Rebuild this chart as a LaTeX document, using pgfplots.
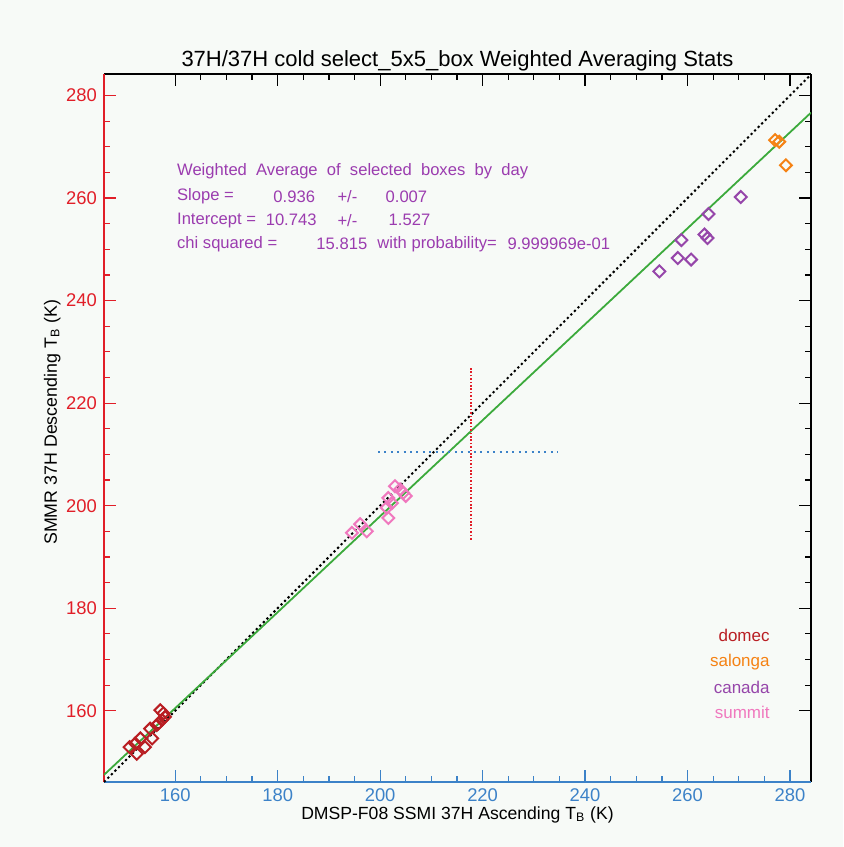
\documentclass[border=0pt]{standalone}
\usepackage{pgfplots}
\pgfplotsset{compat=1.18}
\usepackage{fontspec}
\setmainfont{Liberation Sans}
\definecolor{bg}{RGB}{247,250,247}
\definecolor{xblue}{RGB}{60,130,200}
\definecolor{yred}{RGB}{225,30,40}
\definecolor{cdomec}{RGB}{185,30,35}
\definecolor{csalonga}{RGB}{245,130,20}
\definecolor{ccanada}{RGB}{150,70,170}
\definecolor{csummit}{RGB}{240,120,190}
\definecolor{tpurple}{RGB}{155,60,175}
\definecolor{fitgreen}{RGB}{60,170,60}
\pgfplotsset{
  dmark/.style={only marks, mark=square, mark size=2.1pt, mark options={rotate=45, line width=1pt, #1}, color=#1},
}
\begin{document}
\begin{tikzpicture}
\path[use as bounding box, fill=bg] (-52pt,-32.5pt) rectangle (369.5pt,391pt);
\begin{axis}[at={(0,0)}, anchor=south west, scale only axis,
  width=353.5pt, height=354pt,
  xmin=146.1, xmax=284.1, ymin=146.1, ymax=284.2,
  axis x line*=top, axis y line*=right,
  axis line style={black, line width=0.7pt},
  xtick={160,180,...,280}, ytick={160,180,...,280}, minor tick num=3,
  tick align=inside, tick style={black, line width=0.6pt},
  major tick length=6pt, minor tick length=3pt,
  xticklabels={}, yticklabels={},
]
\addplot[draw=none] coordinates {(150,150)};
\end{axis}
\begin{axis}[at={(0,0)}, anchor=south west, scale only axis,
  width=353.5pt, height=354pt,
  xmin=146.1, xmax=284.1, ymin=146.1, ymax=284.2,
  axis x line*=bottom, axis y line*=left,
  x axis line style={xblue, line width=0.7pt},
  y axis line style={yred, line width=0.7pt},
  xtick={160,180,...,280}, ytick={160,180,...,280}, minor tick num=3,
  tick align=inside,
  xtick style={xblue, line width=0.6pt},
  ytick style={yred, line width=0.6pt},
  major tick length=6pt, minor tick length=3pt,
  /pgf/number format/assume math mode=true,
  xticklabel style={text=xblue, font=\fontsize{9.2}{10}\selectfont},
  yticklabel style={text=yred, font=\fontsize{9.2}{10}\selectfont},
  every axis title shift=0pt,
  title={37H/37H cold select\_5x5\_box Weighted Averaging Stats},
  title style={at={(axis description cs:0.5,1.0099)}, anchor=base, font=\fontsize{11}{12}\selectfont},
  xlabel={DMSP-F08 SSMI 37H Ascending T\textsubscript{B} (K)},
  xlabel style={at={(axis description cs:0.5,-0.053)}, anchor=base, font=\fontsize{8.8}{10}\selectfont},
  ylabel={SMMR 37H Descending T\textsubscript{B} (K)},
  ylabel style={at={(axis description cs:-0.0665,0.508)}, anchor=base, font=\fontsize{8.9}{10}\selectfont},
]
% 1:1 line
\addplot[black, line width=1pt, dash pattern=on 1.1pt off 1.4pt] coordinates {(146.1,146.1) (284.1,284.1)};
% weighted fit y = 0.936x + 10.743
\addplot[fitgreen, line width=0.9pt] coordinates {(146.1,147.49) (284.1,276.66)};
% mean with spread
\addplot[yred, line width=0.8pt, dash pattern=on 0.8pt off 0.9pt] coordinates {(217.7,193.4) (217.7,227.1)};
\addplot[xblue, line width=0.8pt, dash pattern=on 1pt off 2.2pt] coordinates {(199.6,210.5) (234.7,210.5)};
% domec
\addplot[dmark=cdomec] coordinates {
(151.1,152.9) (152.2,153.6) (153.2,154.6) (152.5,151.6) (154.1,152.9)
(155.1,156.5) (155.5,154.6) (157.1,160.1) (156.4,157.2) (157.4,158.2)
(158.0,158.8) (157.7,159.5) (156.7,157.5)};
% summit
\addplot[dmark=csummit] coordinates {
(194.5,194.7) (196.1,196.4) (197.4,195.0) (201.3,199.6) (201.6,197.6)
(201.6,201.5) (202.3,200.5) (202.9,203.8) (203.9,203.2) (204.5,202.5) (205.0,201.9)};
% canada
\addplot[dmark=ccanada] coordinates {
(254.5,245.7) (258.1,248.3) (260.7,248.0) (258.8,251.8) (263.3,252.9)
(263.9,252.2) (264.1,256.9) (270.4,260.2)};
% salonga
\addplot[dmark=csalonga] coordinates {
(277.1,271.3) (277.9,271.0) (279.2,266.4)};
% stats text
\begin{scope}[every node/.style={anchor=west, text=tpurple, font=\fontsize{8.3}{9}\selectfont, inner sep=0pt}]
\node at (axis cs:160.3,265.3) {Weighted\ \ Average\ \ of\ \ selected\ \ boxes\ \ by\ \ day};
\node at (axis cs:160.3,260.3) {Slope =};
\node at (axis cs:179.1,260.3) {0.936};
\node at (axis cs:191.6,260.3) {+/-};
\node at (axis cs:201.0,260.3) {0.007};
\node at (axis cs:160.3,255.7) {Intercept =};
\node at (axis cs:177.6,255.7) {10.743};
\node at (axis cs:191.6,255.7) {+/-};
\node at (axis cs:201.6,255.7) {1.527};
\node at (axis cs:160.3,251.0) {chi squared =};
\node at (axis cs:187.5,251.0) {15.815};
\node at (axis cs:199.4,251.0) {with probability=};
\node at (axis cs:224.8,251.0) {9.999969e-01};
\end{scope}
% labels of sites
\begin{scope}[every node/.style={anchor=east, font=\fontsize{8.5}{9}\selectfont, inner sep=0pt}]
\node[text=cdomec] at (axis cs:276.1,174.7) {domec};
\node[text=csalonga] at (axis cs:276.1,169.4) {salonga};
\node[text=ccanada] at (axis cs:276.1,164.5) {canada};
\node[text=csummit] at (axis cs:276.1,159.6) {summit};
\end{scope}
\end{axis}
\end{tikzpicture}
\end{document}
